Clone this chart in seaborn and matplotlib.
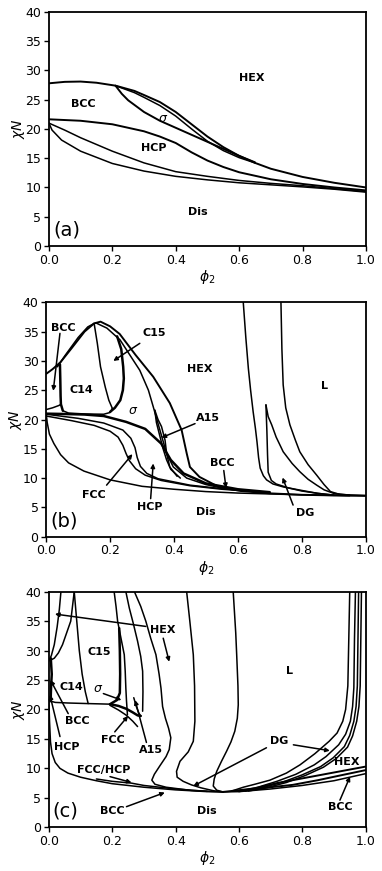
import matplotlib
matplotlib.use("Agg")
import matplotlib.pyplot as plt
import seaborn as sns

# ---------------- panel (a) ----------------
a_hex_x = [0.0, 0.05, 0.1, 0.15, 0.21, 0.27, 0.3, 0.35, 0.4, 0.45, 0.5, 0.55, 0.6, 0.65, 0.7, 0.8, 0.9, 1.0]
a_hex_y = [27.8, 28.05, 28.1, 27.9, 27.4, 26.5, 25.8, 24.6, 22.9, 20.8, 18.7, 16.9, 15.4, 14.2, 13.2, 11.8, 10.8, 10.0]
a_sigb_x = [0.21, 0.27, 0.3, 0.35, 0.4, 0.45, 0.5, 0.55, 0.6, 0.65]
a_sigb_y = [27.4, 26.2, 25.4, 24.0, 22.2, 20.0, 17.9, 16.3, 15.1, 14.2]
a_sigc_x = [0.21, 0.23, 0.25, 0.3, 0.35, 0.4, 0.45, 0.5, 0.55, 0.6, 0.65]
a_sigc_y = [27.4, 26.0, 24.9, 22.9, 21.4, 20.2, 19.0, 17.8, 16.6, 15.4, 14.3]
a_bcc_x = [0.0, 0.1, 0.2, 0.3, 0.35, 0.4, 0.45, 0.5, 0.55, 0.6, 0.7, 0.8, 0.9, 1.0]
a_bcc_y = [21.65, 21.4, 20.8, 19.6, 18.7, 17.6, 16.0, 14.6, 13.5, 12.6, 11.4, 10.6, 10.0, 9.5]
a_hcp_x = [0.0, 0.05, 0.1, 0.2, 0.3, 0.4, 0.5, 0.6, 0.7, 0.8, 0.9, 1.0]
a_hcp_y = [21.0, 19.8, 18.5, 16.2, 14.2, 12.7, 11.9, 11.2, 10.7, 10.3, 9.8, 9.3]
a_dis_x = [0.0, 0.01, 0.04, 0.1, 0.2, 0.3, 0.4, 0.5, 0.6, 0.7, 0.8, 0.9, 1.0]
a_dis_y = [21.0, 19.8, 18.1, 16.2, 14.1, 12.8, 11.9, 11.3, 10.8, 10.45, 10.1, 9.7, 9.2]

# ---------------- panel (b) ----------------
b_out_x = [0.0, 0.02, 0.045, 0.08, 0.12, 0.15, 0.17, 0.2, 0.23, 0.28, 0.335, 0.387, 0.424, 0.44, 0.45, 0.48, 0.54, 0.61, 0.7, 0.8, 0.9, 1.0]
b_out_y = [27.8, 28.6, 29.8, 32.2, 35.0, 36.4, 36.7, 35.9, 34.6, 31.0, 27.3, 22.8, 18.2, 14.2, 11.9, 10.2, 8.5, 7.8, 7.4, 7.15, 7.05, 7.0]
b_c14top_x = [0.035, 0.06, 0.1, 0.13, 0.15]
b_c14top_y = [29.0, 31.0, 34.0, 35.8, 36.4]
b_in_x = [0.155, 0.19, 0.231, 0.293, 0.32, 0.335, 0.356, 0.377, 0.398, 0.44, 0.5, 0.56, 0.65]
b_in_y = [36.5, 35.6, 33.6, 28.4, 25.0, 22.2, 18.2, 14.2, 11.9, 10.0, 8.9, 8.2, 7.7]
b_c15l_x = [0.15, 0.16, 0.17, 0.185, 0.196, 0.207]
b_c15l_y = [36.4, 33.0, 29.0, 25.5, 23.3, 21.9]
b_c15r_x = [0.222, 0.235, 0.241, 0.243, 0.24, 0.232, 0.215, 0.2]
b_c15r_y = [34.2, 32.0, 29.0, 27.0, 25.0, 23.3, 22.0, 21.3]
b_c14bot_x = [0.052, 0.07, 0.12, 0.18, 0.2, 0.207]
b_c14bot_y = [21.5, 21.1, 20.95, 20.9, 21.2, 21.9]
b_c14l_x = [0.043, 0.044, 0.045, 0.046, 0.052]
b_c14l_y = [29.4, 27.0, 24.0, 22.6, 21.5]
b_bccbot_x = [0.0, 0.02, 0.04, 0.046]
b_bccbot_y = [21.7, 22.0, 22.4, 22.6]
b_sig_x = [0.0, 0.05, 0.12, 0.18, 0.25, 0.31, 0.36, 0.39, 0.43, 0.5, 0.6, 0.7]
b_sig_y = [21.0, 20.95, 20.85, 20.6, 19.6, 18.4, 15.9, 13.1, 10.8, 9.1, 8.1, 7.6]
b_a15a_x = [0.34, 0.345, 0.351, 0.366, 0.377, 0.39, 0.42]
b_a15a_y = [21.6, 19.5, 18.2, 15.0, 13.1, 11.5, 10.0]
b_a15b_x = [0.34, 0.35, 0.361, 0.372, 0.377, 0.387, 0.41]
b_a15b_y = [21.6, 20.0, 18.8, 16.5, 14.2, 11.9, 10.3]
b_fcc_x = [0.0, 0.08, 0.15, 0.2, 0.225, 0.24, 0.25, 0.26, 0.28, 0.31, 0.36, 0.45, 0.55, 0.7]
b_fcc_y = [20.6, 19.8, 19.0, 18.0, 17.0, 15.6, 14.2, 13.0, 11.6, 10.5, 9.6, 8.7, 8.1, 7.5]
b_hcp_x = [0.0, 0.1, 0.18, 0.24, 0.265, 0.278, 0.285, 0.295, 0.315, 0.35, 0.45, 0.55, 0.7]
b_hcp_y = [20.9, 20.2, 19.4, 18.2, 16.8, 15.2, 13.5, 12.0, 10.8, 9.9, 8.8, 8.2, 7.5]
b_dis_x = [0.0, 0.003, 0.01, 0.024, 0.045, 0.07, 0.118, 0.2, 0.3, 0.4, 0.5, 0.6, 0.7, 0.8, 0.9, 1.0]
b_dis_y = [21.0, 19.5, 17.5, 15.9, 14.0, 12.6, 11.2, 9.7, 8.6, 8.1, 7.7, 7.45, 7.3, 7.15, 7.05, 7.0]
b_l1_x = [0.617, 0.625, 0.633, 0.64, 0.648, 0.655, 0.66, 0.665, 0.67, 0.68, 0.69, 0.71, 0.742, 0.8, 0.85, 0.9, 0.95]
b_l1_y = [40.0, 34.0, 28.7, 25.0, 21.3, 18.5, 16.2, 13.5, 11.7, 10.4, 9.7, 9.0, 8.5, 7.9, 7.4, 7.1, 7.0]
b_dga_x = [0.688, 0.691, 0.693, 0.695, 0.705, 0.72, 0.76, 0.8, 0.85, 0.9]
b_dga_y = [22.5, 18.0, 14.0, 11.0, 9.6, 9.0, 8.3, 7.8, 7.4, 7.1]
b_dgb_x = [0.688, 0.695, 0.706, 0.72, 0.742, 0.77, 0.794, 0.82, 0.847, 0.87, 0.9, 0.95]
b_dgb_y = [22.5, 20.5, 19.1, 17.0, 14.5, 12.5, 11.1, 9.8, 8.8, 8.0, 7.4, 7.1]
b_l2_x = [0.735, 0.738, 0.742, 0.75, 0.763, 0.78, 0.794, 0.82, 0.847, 0.87, 0.89, 0.92, 1.0]
b_l2_y = [40.0, 32.0, 25.9, 22.0, 19.1, 16.5, 14.5, 12.3, 10.5, 8.9, 7.7, 7.2, 7.0]

# ---------------- panel (c) ----------------
c_dis_x = [0.0, 0.002, 0.005, 0.01, 0.02, 0.035, 0.06, 0.1, 0.15, 0.2, 0.3, 0.4, 0.5, 0.55, 0.6, 0.7, 0.8, 0.9, 1.0]
c_dis_y = [21.5, 18.0, 14.5, 12.5, 11.0, 10.0, 9.2, 8.5, 7.9, 7.4, 6.8, 6.35, 6.05, 6.0, 6.05, 6.5, 7.1, 7.9, 9.1]
c_fcc_low_x = [0.15, 0.2, 0.26, 0.3, 0.4, 0.5]
c_fcc_low_y = [8.2, 7.8, 7.5, 7.1, 6.5, 6.1]
c_s_x = [0.27, 0.29, 0.306, 0.322, 0.338, 0.348, 0.354, 0.359, 0.368, 0.378, 0.385, 0.38, 0.37, 0.35, 0.333, 0.325, 0.335, 0.37, 0.45, 0.55]
c_s_y = [40.0, 37.5, 35.0, 32.0, 29.3, 26.0, 23.6, 20.5, 18.5, 16.8, 15.2, 13.2, 12.0, 10.4, 9.0, 8.0, 7.3, 6.8, 6.25, 6.0]
c_m1_x = [0.435, 0.445, 0.456, 0.46, 0.461, 0.456, 0.44, 0.414, 0.403, 0.405, 0.424, 0.45, 0.48, 0.52, 0.55]
c_m1_y = [40.0, 35.0, 29.3, 24.0, 18.0, 14.6, 12.8, 11.2, 9.5, 8.5, 7.8, 7.2, 6.7, 6.2, 6.0]
c_m2_x = [0.582, 0.59, 0.593, 0.597, 0.598, 0.595, 0.587, 0.575, 0.561, 0.545, 0.53, 0.522, 0.519, 0.53, 0.55]
c_m2_y = [40.0, 33.0, 29.3, 24.0, 20.8, 18.5, 16.3, 14.5, 12.9, 11.2, 9.5, 8.2, 7.0, 6.3, 6.0]
c_r1_x = [0.95, 0.947, 0.944, 0.937, 0.928, 0.91, 0.885, 0.84, 0.793, 0.75, 0.698, 0.65, 0.614, 0.58]
c_r1_y = [40.0, 32.0, 24.0, 20.0, 18.0, 16.0, 14.6, 12.5, 10.6, 9.2, 8.0, 7.3, 6.8, 6.2]
c_r2_x = [0.968, 0.965, 0.963, 0.959, 0.952, 0.937, 0.915, 0.875, 0.838, 0.78, 0.72, 0.66, 0.6]
c_r2_y = [40.0, 32.0, 23.7, 20.5, 18.0, 15.8, 14.0, 12.0, 10.6, 9.0, 7.8, 6.8, 6.1]
c_r3_x = [0.978, 0.976, 0.974, 0.97, 0.963, 0.95, 0.933, 0.898, 0.858, 0.8, 0.74, 0.68, 0.62]
c_r3_y = [40.0, 32.0, 24.0, 20.5, 18.0, 15.6, 13.7, 11.8, 10.3, 8.9, 7.7, 6.8, 6.15]
c_r4_x = [0.987, 0.985, 0.983, 0.979, 0.972, 0.959, 0.943, 0.908, 0.867, 0.81, 0.75, 0.69, 0.63]
c_r4_y = [40.0, 32.0, 24.0, 20.5, 18.0, 15.5, 13.6, 11.7, 10.2, 8.8, 7.6, 6.75, 6.15]
c_hb1_x = [0.55, 0.65, 0.72, 0.8, 0.9, 1.0]
c_hb1_y = [6.0, 6.6, 7.5, 8.3, 9.3, 10.3]
c_hb2_x = [0.6, 0.7, 0.77, 0.85, 0.92, 1.0]
c_hb2_y = [6.1, 6.8, 7.2, 8.0, 8.8, 9.7]
c_lp_x = [0.0, 0.008, 0.017, 0.026, 0.033, 0.038]
c_lp_y = [28.2, 29.2, 31.0, 34.0, 37.0, 40.0]
c_lq_x = [0.006, 0.017, 0.03, 0.043, 0.056, 0.069, 0.08]
c_lq_y = [28.4, 28.7, 29.6, 31.0, 33.0, 35.0, 40.0]
c_c14l_x = [0.006, 0.009, 0.007, 0.006, 0.006]
c_c14l_y = [28.7, 26.0, 24.0, 22.5, 21.4]
c_c14b_x = [0.0, 0.006, 0.02, 0.06, 0.124, 0.16, 0.193]
c_c14b_y = [21.5, 21.4, 21.2, 21.1, 21.0, 20.95, 20.9]
c_c1415_x = [0.08, 0.088, 0.096, 0.105, 0.115, 0.124]
c_c1415_y = [40.0, 35.0, 30.0, 26.0, 23.0, 21.0]
c_c15r_x = [0.222, 0.224, 0.225, 0.224, 0.215, 0.193]
c_c15r_y = [33.8, 30.0, 26.0, 22.8, 21.6, 20.9]
c_t1_x = [0.206, 0.212, 0.217, 0.228, 0.238, 0.241, 0.243, 0.245, 0.248]
c_t1_y = [40.0, 37.5, 35.0, 32.0, 29.3, 26.5, 23.6, 21.5, 19.1]
c_t2_x = [0.243, 0.254, 0.267, 0.28, 0.29, 0.296, 0.297, 0.296]
c_t2_y = [40.0, 37.2, 34.5, 31.6, 29.0, 26.5, 23.0, 19.7]
c_fccu_x = [0.193, 0.22, 0.245, 0.265, 0.28, 0.29]
c_fccu_y = [20.9, 20.6, 20.1, 19.5, 19.0, 18.9]
c_fccl_x = [0.193, 0.22, 0.245, 0.265, 0.28]
c_fccl_y = [20.7, 19.9, 19.0, 18.0, 17.1]
c_a15_x = [0.268, 0.276, 0.284, 0.29]
c_a15_y = [22.0, 20.5, 19.4, 18.9]

sns.set_theme(style="ticks")
plt.rcParams["font.family"] = ["DejaVu Sans"]
plt.rcParams["mathtext.fontset"] = "dejavusans"
for key in ("text.color", "axes.labelcolor", "xtick.color", "ytick.color", "axes.edgecolor"):
    plt.rcParams[key] = "black"

fig = plt.figure(figsize=(3.82, 8.71), dpi=100)
ax_a = fig.add_axes([0.128, 0.7176, 0.830, 0.2687])
ax_b = fig.add_axes([0.121, 0.3838, 0.836, 0.2691])
ax_c = fig.add_axes([0.128, 0.0502, 0.829, 0.2705])


def curve(ax, xs, ys, lw=1.1):
    sns.lineplot(x=xs, y=ys, sort=False, estimator=None, color="black", lw=lw, ax=ax)


def label(ax, x, y, s, size=8):
    ax.text(x, y, s, ha="center", va="center", fontsize=size, fontweight="bold", color="black")


def arrow(ax, tail, tip):
    ax.annotate("", xy=tip, xytext=tail,
                arrowprops=dict(arrowstyle="-|>", color="black", lw=1.1,
                                mutation_scale=6, shrinkA=0, shrinkB=0))


# panel a
curve(ax_a, a_hex_x, a_hex_y, 1.4)
curve(ax_a, a_sigb_x, a_sigb_y)
curve(ax_a, a_sigc_x, a_sigc_y, 1.4)
curve(ax_a, a_bcc_x, a_bcc_y, 1.4)
curve(ax_a, a_hcp_x, a_hcp_y)
curve(ax_a, a_dis_x, a_dis_y)
label(ax_a, 0.64, 28.7, "HEX")
label(ax_a, 0.107, 24.3, "BCC")
ax_a.text(0.36, 21.8, r"$\sigma$", ha="center", va="center", fontsize=9)
label(ax_a, 0.33, 16.8, "HCP")
label(ax_a, 0.47, 5.75, "Dis")
ax_a.text(0.015, 2.7, "(a)", ha="left", va="center", fontsize=14)

# panel b
curve(ax_b, b_out_x, b_out_y, 1.4)
curve(ax_b, b_c14top_x, b_c14top_y)
curve(ax_b, b_in_x, b_in_y)
curve(ax_b, b_c15l_x, b_c15l_y)
curve(ax_b, b_c15r_x, b_c15r_y, 1.8)
curve(ax_b, b_c14bot_x, b_c14bot_y)
curve(ax_b, b_c14l_x, b_c14l_y, 1.8)
curve(ax_b, b_bccbot_x, b_bccbot_y)
curve(ax_b, b_sig_x, b_sig_y, 1.8)
curve(ax_b, b_a15a_x, b_a15a_y)
curve(ax_b, b_a15b_x, b_a15b_y)
curve(ax_b, b_fcc_x, b_fcc_y)
curve(ax_b, b_hcp_x, b_hcp_y)
curve(ax_b, b_dis_x, b_dis_y)
curve(ax_b, b_l1_x, b_l1_y)
curve(ax_b, b_dga_x, b_dga_y)
curve(ax_b, b_dgb_x, b_dgb_y)
curve(ax_b, b_l2_x, b_l2_y)
label(ax_b, 0.053, 35.7, "BCC")
arrow(ax_b, (0.043, 34.7), (0.022, 24.9))
label(ax_b, 0.337, 34.7, "C15")
arrow(ax_b, (0.293, 33.0), (0.21, 30.0))
label(ax_b, 0.109, 25.1, "C14")
label(ax_b, 0.481, 28.6, "HEX")
label(ax_b, 0.87, 25.7, "L")
ax_b.text(0.272, 21.6, r"$\sigma$", ha="center", va="center", fontsize=9)
label(ax_b, 0.507, 20.2, "A15")
arrow(ax_b, (0.466, 19.3), (0.361, 16.9))
label(ax_b, 0.551, 12.6, "BCC")
arrow(ax_b, (0.556, 11.3), (0.563, 8.3))
label(ax_b, 0.15, 7.1, "FCC")
arrow(ax_b, (0.189, 8.8), (0.27, 14.1))
label(ax_b, 0.323, 5.1, "HCP")
arrow(ax_b, (0.327, 6.5), (0.335, 12.5))
label(ax_b, 0.5, 4.2, "Dis")
label(ax_b, 0.81, 4.0, "DG")
arrow(ax_b, (0.773, 5.4), (0.74, 10.1))
ax_b.text(0.012, 2.6, "(b)", ha="left", va="center", fontsize=14)

# panel c
curve(ax_c, c_dis_x, c_dis_y)
curve(ax_c, c_fcc_low_x, c_fcc_low_y)
curve(ax_c, c_s_x, c_s_y)
curve(ax_c, c_m1_x, c_m1_y)
curve(ax_c, c_m2_x, c_m2_y)
curve(ax_c, c_r1_x, c_r1_y)
curve(ax_c, c_r2_x, c_r2_y)
curve(ax_c, c_r3_x, c_r3_y)
curve(ax_c, c_r4_x, c_r4_y)
curve(ax_c, c_hb1_x, c_hb1_y, 1.4)
curve(ax_c, c_hb2_x, c_hb2_y, 1.4)
curve(ax_c, c_lp_x, c_lp_y)
curve(ax_c, c_lq_x, c_lq_y)
curve(ax_c, c_c14l_x, c_c14l_y, 1.8)
curve(ax_c, c_c14b_x, c_c14b_y)
curve(ax_c, c_c1415_x, c_c1415_y)
curve(ax_c, c_c15r_x, c_c15r_y, 1.8)
curve(ax_c, c_t1_x, c_t1_y)
curve(ax_c, c_t2_x, c_t2_y)
curve(ax_c, c_fccu_x, c_fccu_y, 1.8)
curve(ax_c, c_fccl_x, c_fccl_y)
curve(ax_c, c_a15_x, c_a15_y)
label(ax_c, 0.361, 33.5, "HEX")
arrow(ax_c, (0.306, 34.1), (0.019, 36.2))
arrow(ax_c, (0.361, 32.1), (0.38, 28.1))
label(ax_c, 0.159, 29.8, "C15")
label(ax_c, 0.761, 26.6, "L")
label(ax_c, 0.072, 23.8, "C14")
ax_c.text(0.156, 23.6, r"$\sigma$", ha="center", va="center", fontsize=9)
arrow(ax_c, (0.172, 22.7), (0.229, 21.6))
label(ax_c, 0.089, 18.1, "BCC")
arrow(ax_c, (0.061, 19.3), (0.005, 25.0))
label(ax_c, 0.056, 13.7, "HCP")
arrow(ax_c, (0.035, 15.4), (0.003, 22.5))
label(ax_c, 0.203, 14.8, "FCC")
arrow(ax_c, (0.208, 16.2), (0.25, 18.9))
label(ax_c, 0.321, 13.1, "A15")
arrow(ax_c, (0.308, 14.4), (0.272, 21.6))
label(ax_c, 0.727, 14.6, "DG")
arrow(ax_c, (0.687, 13.5), (0.456, 7.0))
arrow(ax_c, (0.772, 14.0), (0.887, 13.0))
label(ax_c, 0.94, 11.0, "HEX")
label(ax_c, 0.919, 3.4, "BCC")
arrow(ax_c, (0.919, 4.6), (0.951, 8.6))
label(ax_c, 0.172, 9.7, "FCC/HCP")
arrow(ax_c, (0.193, 8.6), (0.261, 7.6))
label(ax_c, 0.201, 2.8, "BCC")
arrow(ax_c, (0.245, 3.5), (0.366, 5.9))
label(ax_c, 0.498, 2.8, "Dis")
ax_c.text(0.012, 2.7, "(c)", ha="left", va="center", fontsize=14)

for ax in (ax_a, ax_b, ax_c):
    ax.set_xlim(0, 1)
    ax.set_ylim(0, 40)
    ax.set_xticks([0.0, 0.2, 0.4, 0.6, 0.8, 1.0])
    ax.set_yticks(range(0, 41, 5))
    ax.tick_params(labelsize=9, length=3.5, width=1.0, color="black", labelcolor="black", pad=2)
    for sp in ax.spines.values():
        sp.set_visible(True)
        sp.set_linewidth(1.3)
        sp.set_color("black")
    ax.set_xlabel(r"$\phi_2$", fontsize=10, labelpad=1)
    ax.set_ylabel(r"$\chi N$", fontsize=10, labelpad=-1)

fig.savefig("out.png", dpi=100)
